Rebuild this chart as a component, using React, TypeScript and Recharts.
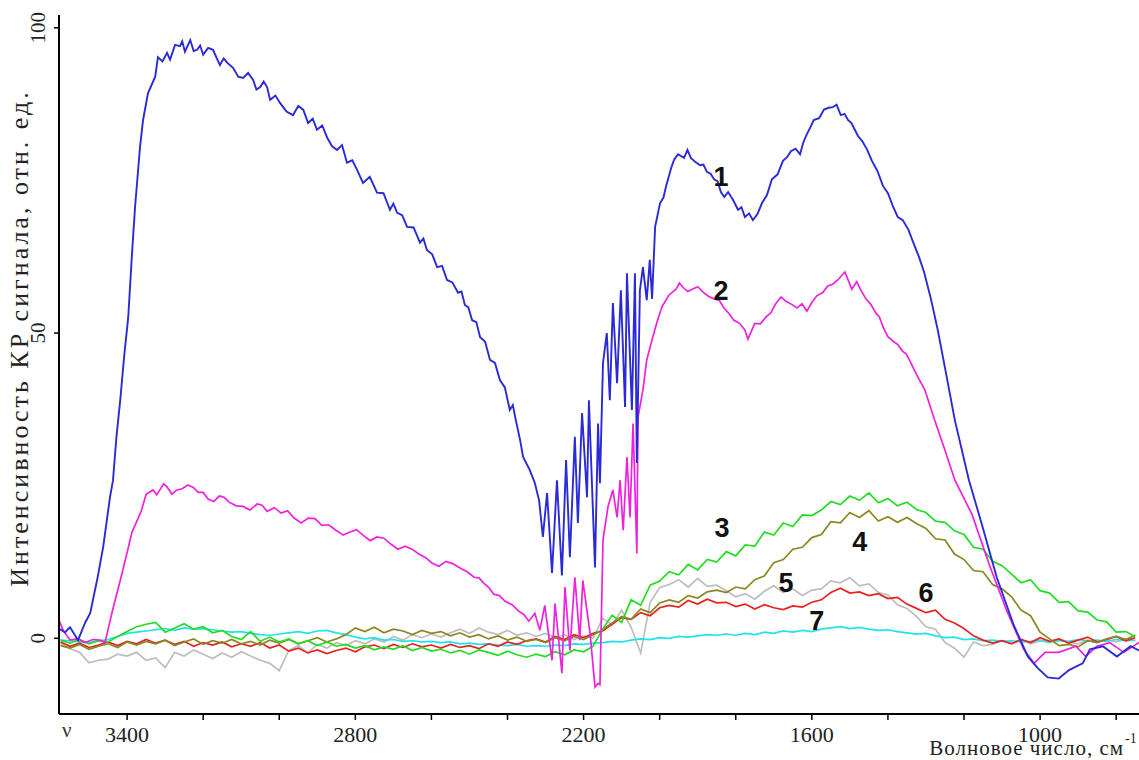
import { LineChart, Line, XAxis, YAxis, ReferenceDot } from "recharts";

// common wavenumber grid (cm-1) for the low curves 3..7
const WAVENUMBERS = [
  3575, 3550, 3525, 3500, 3475, 3450, 3425, 3400, 3375, 3350,
  3325, 3300, 3275, 3250, 3225, 3200, 3175, 3150, 3125, 3100,
  3075, 3050, 3025, 3000, 2975, 2950, 2925, 2900, 2875, 2850,
  2825, 2800, 2775, 2750, 2725, 2700, 2675, 2650, 2625, 2600,
  2575, 2550, 2525, 2500, 2475, 2450, 2425, 2400, 2375, 2350,
  2325, 2300, 2275, 2250, 2225, 2200, 2175, 2150, 2125, 2100,
  2075, 2050, 2025, 2000, 1975, 1950, 1925, 1900, 1875, 1850,
  1825, 1800, 1775, 1750, 1725, 1700, 1675, 1650, 1625, 1600,
  1575, 1550, 1525, 1500, 1475, 1450, 1425, 1400, 1375, 1350,
  1325, 1300, 1275, 1250, 1225, 1200, 1175, 1150, 1125, 1100,
  1075, 1050, 1025, 1000, 975, 950, 925, 900, 875, 850,
  825, 800, 775, 750,
];

const SERIES_3 = [
  -0.3, -0.8, -0.2, -0.9, -0.4, -0.6, 0.3, 1.1, 1.9, 2.3,
  2.6, 1.0, 1.7, 2.4, 1.5, 1.9, 0.9, 1.3, 0.3, -0.2,
  1.1, -0.5, 0.2, -0.6, -0.1, -0.9, -0.4, -1.2, -0.6, -1.3,
  -1.0, -1.6, -1.2, -1.9, -1.4, -1.8, -1.2, -2.0, -1.5, -2.1,
  -1.8, -2.4, -2.0, -2.6, -1.9, -2.3, -2.8, -2.1, -2.7, -3.1,
  -2.6, -3.0, -2.2, -2.7, -1.9, -2.2, -1.3, 1.5, 3.8, 2.6,
  6.3, 5.4, 8.7, 9.4, 10.9, 10.4, 12.1, 11.2, 12.9, 12.5,
  14.2, 13.5, 15.3, 15.1, 17.4, 16.9, 18.9, 18.3, 20.2, 20.1,
  21.0, 22.4, 21.9, 23.3, 22.6, 23.8, 22.2, 22.9, 21.7, 22.3,
  21.1, 20.6, 19.2, 19.0, 17.6, 17.0, 14.9, 14.6, 12.6, 11.9,
  10.5, 9.1, 9.6, 7.8, 7.4, 5.9, 6.0, 4.5, 4.3, 3.0,
  2.7, 1.0, 1.1, 0.3,
];

const SERIES_4 = [
  -1.2, -1.6, -1.0, -1.8, -1.3, -0.9, -1.5, -0.6, -1.1, -0.5,
  -0.9, -0.3, -1.2, -0.6, -0.1, -1.0, -0.4, -0.8, -0.2, -0.9,
  -0.5, -1.1, -0.3, -0.8, -0.2, -0.9, -0.4, 0.1, -0.6, -0.1,
  0.6, 1.7, 1.1, 1.8, 0.9, 1.5, 1.2, 0.6, 1.3, 0.8,
  1.1, 0.4, 0.9, 0.2, 0.6, -0.1, 0.4, -0.3, 0.2, -0.5,
  -0.2, -0.7, 0.1, -0.4, 0.3, -0.2, 0.6, 1.4, 2.5, 3.6,
  3.1, 4.8, 4.2, 5.8, 6.3, 5.9, 7.0, 6.6, 7.6, 7.9,
  7.5, 8.4, 8.1, 9.6, 10.2, 12.4, 12.9, 14.6, 14.9, 16.5,
  17.0, 19.1, 18.9, 20.6, 19.8, 20.9, 19.2, 19.9, 19.0, 19.8,
  18.8, 18.0, 16.3, 16.1, 13.8, 12.9, 11.1, 10.9, 8.8, 8.1,
  6.8, 4.6, 3.7, 1.0, -0.1, -1.2, -1.0, -1.4, -0.4, -0.7,
  -0.1, 0.3, -0.2, 0.5,
];

const SERIES_5 = [
  -0.8, -1.7, -2.3, -4.0, -3.6, -3.4, -2.6, -2.9, -2.3, -3.6,
  -3.2, -4.8, -2.3, -2.9, -1.9, -2.6, -3.3, -2.4, -3.1, -2.2,
  -2.9, -3.6, -4.1, -5.3, -2.0, -1.2, -2.4, -1.0, -1.6, -0.7,
  -1.2, -0.4, -0.9, -0.1, -0.6, 0.3, -0.3, 0.6, 0.1, 0.7,
  0.2, 0.9, 1.5, 0.8, 1.7, 1.0, 0.6, 1.3, 0.5, 0.9,
  0.3, 0.8, 0.1, 0.6, -0.2, 0.4, 0.0, 3.3, 2.2, 4.6,
  1.8, -2.4, 5.9, 8.3, 8.8, 9.6, 8.4, 9.8, 8.5, 8.7,
  7.8, 6.8, 7.3, 6.4, 7.7, 8.6, 7.5, 8.1, 7.0, 7.9,
  8.1, 9.4, 9.1, 9.9, 8.6, 8.9, 7.5, 7.1, 5.5, 4.9,
  3.6, 1.9, 1.5, -0.7, -1.6, -3.1, -0.6, -1.2, -1.0, -0.4,
  -0.8, -0.2, -0.9, -0.4, -0.7, -0.1, -0.6, -0.9, -0.3, -0.7,
  -0.2, -0.6, -0.1, -0.4,
];

const SERIES_6 = [
  -0.6, -1.3, -0.8, -1.5, -1.1, -0.6, -1.2, -0.5, -0.9, -0.2,
  -0.8, -0.3, -1.0, -0.5, -1.3, -0.7, -1.1, -0.6, -1.4, -0.9,
  -1.3, -0.7, -1.6, -1.1, -2.1, -1.6, -2.4, -1.9, -2.5, -2.0,
  -1.6, -2.2, -1.4, -1.1, -1.7, -1.0, -1.5, -0.9, -1.4, -1.1,
  -1.6, -1.0, -1.5, -1.2, -1.7, -0.9, -1.3, -0.6, -1.0, -0.4,
  -0.1, -0.6, 0.3, -0.2, 0.6, 0.1, 0.8, 1.2, 2.3, 3.4,
  3.1, 4.2, 3.7, 5.0, 5.4, 5.1, 6.2, 5.6, 6.4, 5.8,
  5.9, 5.2, 5.6, 4.8, 5.5, 5.0, 4.7, 5.3, 5.1, 5.9,
  6.3, 7.5, 8.2, 7.4, 7.6, 7.0, 7.3, 6.5, 6.7, 5.6,
  4.9, 4.2, 4.6, 3.1, 2.5, 1.6, 0.4, -0.3, -0.8, -0.4,
  -0.9, -0.2, -0.7, 0.1, -0.5, -0.1, -0.8, -0.3, 0.2, -0.6,
  -0.2, 0.3, -0.4, 0.1,
];

const SERIES_7 = [
  -0.3, -0.4, -0.6, -0.7, -0.4, -0.2, 0.3, 0.8, 1.0, 1.2,
  1.4, 1.6, 1.3, 1.7, 1.5, 1.6, 1.4, 1.2, 1.0, 1.1,
  0.8, 0.6, 0.5, 0.7, 0.9, 1.1, 0.8, 1.2, 1.3, 0.9,
  0.6, 0.2, -0.1, 0.1, -0.3, -0.2, -0.5, -0.4, -0.6, -0.5,
  -0.7, -0.6, -0.9, -0.8, -1.0, -0.9, -1.1, -1.2, -1.0, -1.3,
  -1.2, -1.3, -1.1, -1.2, -0.9, -1.0, -0.8, -0.7, -0.5, -0.6,
  -0.3, -0.1, -0.2, 0.1, 0.0, 0.3, 0.2, 0.4, 0.6, 0.5,
  0.7, 0.5, 0.8, 0.6, 1.0, 0.8, 1.2, 1.0, 1.3, 1.1,
  1.5, 1.7, 1.9, 1.6, 1.8, 1.5, 1.3, 1.4, 1.1, 0.9,
  0.7, 0.8, 0.4, 0.1, 0.2, -0.2, -0.1, -0.4, -0.3, -0.5,
  -0.4, -0.6, -0.5, -0.3, -0.6, -0.4, -0.5, -0.2, -0.4, -0.3,
  -0.5, -0.2, -0.4, -0.3,
];

// curves 1 and 2: [wavenumber, intensity], denser where they oscillate
const CURVE_1: [number, number][] = [
  [3579, 1.6], [3563, 1.0], [3550, 1.8], [3529, -0.3], [3510, 2.6], [3497, 4.1],
  [3479, 9.5], [3463, 14.9], [3445, 23.1], [3437, 25.9], [3428, 33.0], [3418, 39.0],
  [3408, 46.0], [3397, 52.6], [3387, 63.1], [3379, 70.7], [3366, 80.5], [3358, 84.9],
  [3345, 89.3], [3326, 92.0], [3319, 95.2], [3307, 94.5], [3295, 95.9], [3287, 94.8],
  [3274, 97.2], [3261, 97.0], [3255, 97.8], [3248, 96.1], [3234, 98.0], [3225, 96.2],
  [3216, 96.4], [3208, 97.1], [3200, 95.6], [3187, 96.7], [3174, 96.4], [3165, 95.1],
  [3156, 93.9], [3146, 95.0], [3137, 94.3], [3121, 93.4], [3108, 92.0], [3095, 91.8],
  [3082, 92.6], [3069, 91.5], [3060, 89.9], [3050, 90.3], [3041, 91.2], [3032, 90.3],
  [3024, 88.2], [3010, 88.9], [2998, 87.7], [2981, 86.3], [2964, 85.7], [2950, 87.2],
  [2937, 86.6], [2924, 84.4], [2912, 85.1], [2901, 83.3], [2887, 84.0], [2874, 82.0],
  [2861, 80.6], [2848, 80.0], [2835, 80.8], [2822, 77.9], [2808, 78.3], [2795, 76.7],
  [2780, 74.6], [2762, 75.6], [2743, 73.0], [2726, 72.9], [2709, 70.2], [2700, 71.2],
  [2690, 69.7], [2677, 69.3], [2664, 67.4], [2647, 67.3], [2630, 64.8], [2621, 65.5],
  [2612, 63.6], [2598, 62.9], [2585, 60.8], [2572, 61.0], [2559, 58.7], [2545, 58.3],
  [2530, 56.6], [2521, 56.8], [2512, 54.6], [2503, 54.2], [2493, 52.1], [2482, 51.8],
  [2472, 49.3], [2459, 48.6], [2446, 45.6], [2433, 45.1], [2420, 42.3], [2407, 41.1],
  [2394, 37.4], [2386, 38.2], [2378, 35.7], [2367, 32.5], [2359, 29.7], [2341, 27.5],
  [2328, 25.4], [2317, 22.6], [2307, 16.6], [2296, 23.8], [2283, 10.7], [2270, 25.9],
  [2257, 10.3], [2246, 29.2], [2236, 13.3], [2223, 33.0], [2215, 18.9], [2204, 36.9],
  [2191, 23.1], [2186, 39.0], [2170, 11.6], [2162, 35.2], [2157, 25.4], [2149, 45.1],
  [2139, 50.0], [2131, 39.0], [2123, 54.9], [2112, 41.8], [2102, 57.0], [2091, 37.9],
  [2086, 59.8], [2073, 37.4], [2065, 59.8], [2060, 28.7], [2052, 57.0], [2044, 60.8],
  [2034, 55.4], [2026, 62.0], [2020, 55.6], [2012, 67.4], [1999, 71.3], [1990, 72.2],
  [1983, 74.1], [1970, 77.0], [1962, 78.4], [1952, 79.3], [1936, 78.7], [1927, 80.0],
  [1918, 78.7], [1906, 78.0], [1894, 77.5], [1885, 77.6], [1876, 76.4], [1866, 76.1],
  [1857, 75.2], [1848, 74.9], [1839, 73.1], [1830, 72.3], [1820, 73.1], [1807, 71.8],
  [1794, 70.2], [1785, 70.6], [1776, 69.0], [1765, 69.6], [1755, 68.5], [1743, 69.5],
  [1731, 71.3], [1718, 72.6], [1705, 75.2], [1690, 76.0], [1676, 78.2], [1665, 78.8],
  [1655, 79.8], [1643, 80.2], [1631, 79.3], [1622, 81.3], [1613, 82.6], [1604, 83.7],
  [1595, 84.9], [1581, 85.2], [1568, 86.6], [1556, 86.9], [1545, 87.0], [1535, 87.4],
  [1524, 85.7], [1514, 85.9], [1505, 84.9], [1496, 84.4], [1487, 83.3], [1478, 82.2],
  [1468, 81.5], [1455, 80.1], [1442, 78.2], [1428, 76.6], [1413, 74.1], [1400, 72.9],
  [1387, 70.8], [1374, 69.0], [1361, 68.5], [1346, 66.9], [1332, 64.6], [1318, 62.4],
  [1305, 60.0], [1287, 55.6], [1269, 50.5], [1250, 44.3], [1224, 35.7], [1187, 25.9],
  [1150, 18.0], [1114, 10.0], [1069, 2.1], [1032, -3.0], [1006, -4.9], [980, -6.4],
  [951, -6.6], [924, -5.2], [888, -4.1], [869, -1.8], [835, -1.3], [798, -3.0],
  [762, -1.3], [740, -2.0],
];

const CURVE_2: [number, number][] = [
  [3579, 3.0], [3568, 1.3], [3550, -0.3], [3530, -0.1], [3510, -0.7], [3490, -0.2],
  [3471, -0.3], [3458, -0.7], [3439, 4.4], [3413, 10.7], [3387, 17.4], [3363, 20.8],
  [3350, 23.6], [3332, 24.3], [3322, 23.5], [3313, 24.4], [3304, 25.3], [3295, 24.8],
  [3282, 23.6], [3269, 24.3], [3255, 24.5], [3240, 25.1], [3226, 24.7], [3213, 23.9],
  [3200, 23.9], [3187, 22.8], [3172, 22.4], [3158, 23.3], [3145, 23.1], [3132, 22.3],
  [3113, 21.7], [3095, 21.6], [3077, 21.0], [3058, 22.0], [3045, 21.8], [3032, 20.8],
  [3013, 21.4], [2995, 20.5], [2978, 20.9], [2961, 19.7], [2942, 18.9], [2924, 19.7],
  [2906, 19.6], [2888, 18.5], [2870, 18.6], [2851, 17.7], [2832, 16.9], [2814, 17.4],
  [2797, 17.8], [2780, 16.9], [2761, 16.0], [2743, 16.6], [2725, 16.4], [2706, 15.4],
  [2688, 14.6], [2669, 15.1], [2651, 14.6], [2633, 13.8], [2615, 13.2], [2598, 12.3],
  [2580, 11.8], [2562, 12.6], [2543, 12.2], [2525, 11.5], [2506, 10.9], [2488, 10.0],
  [2475, 9.9], [2462, 9.0], [2449, 8.3], [2436, 7.2], [2421, 7.0], [2407, 6.1],
  [2388, 5.5], [2370, 4.4], [2357, 3.9], [2344, 2.8], [2328, 4.1], [2315, 1.3],
  [2302, 5.4], [2283, -3.6], [2275, 5.7], [2257, -5.7], [2249, 8.4], [2236, -2.0],
  [2223, 10.0], [2210, -0.3], [2202, 9.5], [2183, 0.8], [2170, -8.0], [2162, -7.4],
  [2157, -7.6], [2149, 16.1], [2136, 21.5], [2123, 24.3], [2112, 19.8], [2104, 25.9],
  [2096, 17.7], [2086, 29.7], [2078, 19.8], [2070, 35.2], [2060, 13.9], [2057, 36.2],
  [2044, 40.7], [2034, 45.6], [2020, 48.9], [2007, 51.8], [1994, 54.3], [1976, 56.2],
  [1957, 57.2], [1948, 58.2], [1939, 57.5], [1926, 56.8], [1913, 57.2], [1900, 57.6],
  [1886, 56.7], [1871, 56.0], [1857, 55.6], [1844, 55.4], [1831, 54.1], [1818, 53.2],
  [1805, 52.1], [1790, 51.6], [1776, 50.5], [1768, 49.0], [1750, 51.6], [1735, 51.5],
  [1721, 52.6], [1708, 53.3], [1694, 54.9], [1681, 55.9], [1668, 55.2], [1653, 54.7],
  [1639, 54.1], [1626, 54.8], [1613, 53.6], [1600, 55.0], [1587, 56.1], [1572, 56.6],
  [1558, 57.7], [1545, 58.0], [1532, 58.7], [1513, 60.0], [1495, 57.2], [1482, 58.4],
  [1470, 56.9], [1458, 55.6], [1445, 54.7], [1432, 53.3], [1422, 52.6], [1413, 51.0],
  [1400, 49.4], [1387, 48.7], [1374, 48.1], [1361, 47.0], [1352, 46.6], [1342, 45.4],
  [1324, 43.1], [1303, 40.7], [1277, 35.7], [1250, 30.8], [1224, 25.9], [1179, 20.3],
  [1132, 11.8], [1087, 4.4], [1043, -1.8], [1016, -4.1], [987, -2.3], [951, -2.3],
  [906, -1.3], [880, -3.0], [851, -1.3], [817, -0.7], [780, -2.3], [740, -0.7],
];

const X_TICKS = [3400, 3200, 3000, 2800, 2600, 2400, 2200, 2000, 1800, 1600, 1400, 1200, 1000, 800];
const X_TICK_LABELS = [3400, 2800, 2200, 1600, 1000];
const Y_TICKS = [0, 50, 100];

// curve numbers, placed in data coordinates
const CURVE_LABELS = [
  { name: "1", w: 1839, v: 75.6 },
  { name: "2", w: 1839, v: 56.9 },
  { name: "3", w: 1836, v: 18.0 },
  { name: "4", w: 1474, v: 15.7 },
  { name: "5", w: 1668, v: 9.0 },
  { name: "6", w: 1300, v: 7.5 },
  { name: "7", w: 1587, v: 2.8 },
];

const COLOURS = {
  s1: "#2a2ad8",
  s2: "#ee22dd",
  s3: "#22dd22",
  s4: "#8c8622",
  s5: "#bdbdbd",
  s6: "#e82020",
  s7: "#22e2ea",
};

const SERIF = "Liberation Serif, Times New Roman, DejaVu Serif, serif";
const serifStyle = { fontFamily: SERIF };

function XTick({ x, y, payload }: any) {
  if (!X_TICK_LABELS.includes(payload.value)) return null;
  return (
    <text x={x} y={y + 22} textAnchor="middle" style={serifStyle} fontSize={22} fill="#222">
      {payload.value}
    </text>
  );
}

function YTick({ x, y, payload }: any) {
  const bx = x - 9;
  return (
    <text
      x={bx}
      y={y}
      textAnchor="middle"
      transform={`rotate(-90, ${bx}, ${y})`}
      style={serifStyle}
      fontSize={21}
      fill="#222"
    >
      {payload.value}
    </text>
  );
}

export default function App() {
  const rows = WAVENUMBERS.map((w, i) => ({
    w,
    s3: SERIES_3[i],
    s4: SERIES_4[i],
    s5: SERIES_5[i],
    s6: SERIES_6[i],
    s7: SERIES_7[i],
  }));
  const curve1 = CURVE_1.map(([w, v]) => ({ w, v }));
  const curve2 = CURVE_2.map(([w, v]) => ({ w, v }));

  return (
    <div style={{ position: "relative", width: 1139, height: 760, background: "#fff" }}>
      <style>{"body{margin:0}"}</style>
      <LineChart width={1139} height={760} data={rows} margin={{ top: 15, right: 0, bottom: 0, left: 0 }}>
        <XAxis
          dataKey="w"
          type="number"
          reversed
          domain={[740, 3579]}
          allowDataOverflow
          ticks={X_TICKS}
          tick={<XTick />}
          tickSize={6}
          tickMargin={0}
          height={46}
          axisLine={{ stroke: "#000", strokeWidth: 2 }}
          tickLine={{ stroke: "#000", strokeWidth: 1.5 }}
        />
        <YAxis
          type="number"
          domain={[-12.4, 102.1]}
          allowDataOverflow
          ticks={Y_TICKS}
          tick={<YTick />}
          tickSize={5}
          tickMargin={0}
          width={59}
          axisLine={{ stroke: "#000", strokeWidth: 2 }}
          tickLine={{ stroke: "#000", strokeWidth: 1.5 }}
        />
        <Line dataKey="s5" stroke={COLOURS.s5} strokeWidth={1.7} dot={false} isAnimationActive={false} />
        <Line dataKey="s7" stroke={COLOURS.s7} strokeWidth={1.7} dot={false} isAnimationActive={false} />
        <Line dataKey="s6" stroke={COLOURS.s6} strokeWidth={1.7} dot={false} isAnimationActive={false} />
        <Line dataKey="s4" stroke={COLOURS.s4} strokeWidth={1.7} dot={false} isAnimationActive={false} />
        <Line dataKey="s3" stroke={COLOURS.s3} strokeWidth={1.7} dot={false} isAnimationActive={false} />
        <Line data={curve2} dataKey="v" stroke={COLOURS.s2} strokeWidth={1.7} dot={false} isAnimationActive={false} />
        <Line data={curve1} dataKey="v" stroke={COLOURS.s1} strokeWidth={1.9} dot={false} isAnimationActive={false} />
        {CURVE_LABELS.map((l) => (
          <ReferenceDot
            key={l.name}
            x={l.w}
            y={l.v}
            r={0}
            ifOverflow="visible"
            shape={(p: any) => (
              <text
                x={p.cx}
                y={p.cy}
                textAnchor="middle"
                dominantBaseline="central"
                fontFamily="Liberation Sans, Arial, sans-serif"
                fontWeight="bold"
                fontSize={27}
                fill="#111"
              >
                {l.name}
              </text>
            )}
          />
        ))}
      </LineChart>
      <svg width={1139} height={760} style={{ position: "absolute", left: 0, top: 0, pointerEvents: "none" }}>
        <text
          x={28}
          y={338}
          textAnchor="middle"
          transform="rotate(-90, 28, 338)"
          style={serifStyle}
          fontSize={26}
          letterSpacing={3}
          fill="#222"
        >
          Интенсивность КР сигнала, отн. ед.
        </text>
        <text x={1124} y={755} textAnchor="end" style={serifStyle} fontSize={21} letterSpacing={1} fill="#222">
          Волновое число, см
        </text>
        <text x={1125} y={743} style={serifStyle} fontSize={14} fill="#222">
          -1
        </text>
        <text x={62} y={737} style={serifStyle} fontSize={21} fill="#333">
          ν
        </text>
      </svg>
    </div>
  );
}
